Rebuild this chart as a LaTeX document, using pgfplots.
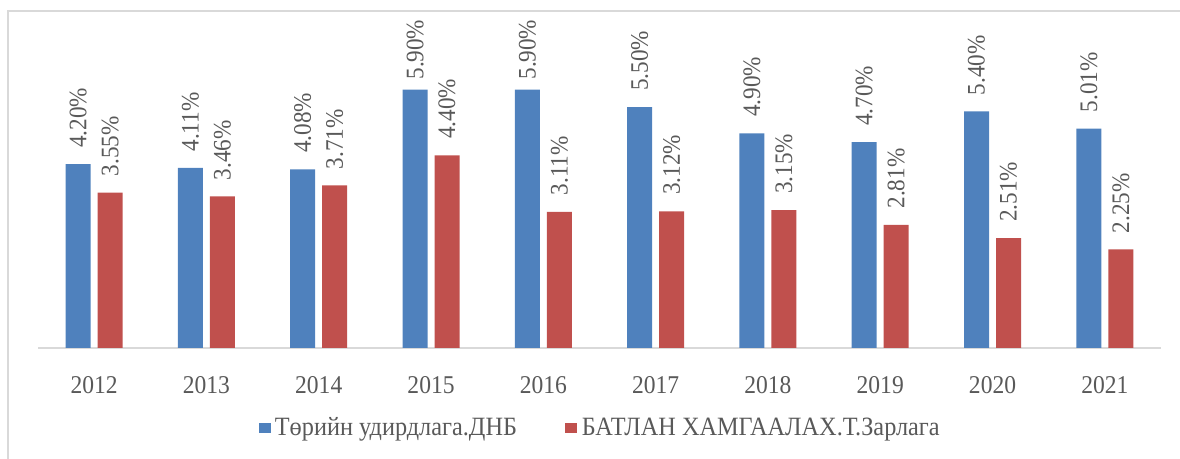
\documentclass[border=0pt]{standalone}
\usepackage{pgfplots}
\usepackage{pgfplotstable}
\pgfplotsset{compat=1.18}
\usepackage{fontspec}
\setmainfont{Liberation Serif}[FakeStretch=0.92]
\definecolor{bblue}{HTML}{4F81BD}
\definecolor{bred}{HTML}{C0504D}
\definecolor{tgray}{HTML}{595959}
\definecolor{lgray}{HTML}{D9D9D9}
\pgfplotstableread{
x a b oa
0 4.20 3.55 8
1 4.11 3.46 8
2 4.08 3.71 8
3 5.90 4.40 4.8
4 5.90 3.11 4.8
5 5.50 3.12 8
6 4.90 3.15 8
7 4.70 2.81 8
8 5.40 2.51 8
9 5.01 2.25 8
}\data
\begin{document}
\begin{tikzpicture}
\useasboundingbox (0,0) rectangle (590pt,229.5pt);
\draw[lgray, line width=0.75pt] (4pt,-20pt) rectangle (620pt,224pt);
\begin{axis}[
  at={(19pt,55.5pt)}, anchor=south west,
  scale only axis,
  width=561.5pt, height=164pt,
  xmin=-0.5, xmax=9.5, ymin=0, ymax=7.489,
  axis y line=none,
  axis x line*=bottom,
  x axis line style={draw=lgray, line width=0.75pt, -},
  xtick={0,...,9},
  xticklabels={2012,2013,2014,2015,2016,2017,2018,2019,2020,2021},
  xtick style={draw=none},
  xticklabel style={font=\fontsize{12.8}{14}\selectfont, text=tgray, inner sep=0pt, anchor=north, yshift=-10pt},
  ybar, bar width=12.5pt,
  nodes near coords={\pgfmathprintnumber[fixed,fixed zerofill,precision=2,assume math mode=true]{\pgfplotspointmeta}\%},
  every node near coord/.append style={rotate=90, anchor=west, inner xsep=8pt, inner ysep=0pt, font=\fontsize{12.6}{14}\selectfont, text=tgray},
  legend columns=2,
  legend style={at={(0.196,-0.244)}, anchor=west, draw=none, fill=none, inner sep=0pt,
    font=\fontsize{13.2}{14}\selectfont, text=tgray,
    nodes={inner xsep=2.2pt, inner ysep=0pt},
    /tikz/every even column/.append style={column sep=22pt}},
  legend image code/.code={\fill[#1, draw=none] (0pt,-2.6pt) rectangle (6pt,2.6pt);},
]
\addplot[fill=bblue, draw=none, bar shift=-8pt,
  visualization depends on={\thisrow{oa} \as \lsep},
  every node near coord/.append style={inner xsep=\lsep pt}] table[x=x, y=a] {\data};
\addplot[fill=bred, draw=none, bar shift=8pt] table[x=x, y=b] {\data};
\legend{Төрийн удирдлага.ДНБ, БАТЛАН ХАМГААЛАХ.Т.Зарлага}
\end{axis}
\end{tikzpicture}
\end{document}
